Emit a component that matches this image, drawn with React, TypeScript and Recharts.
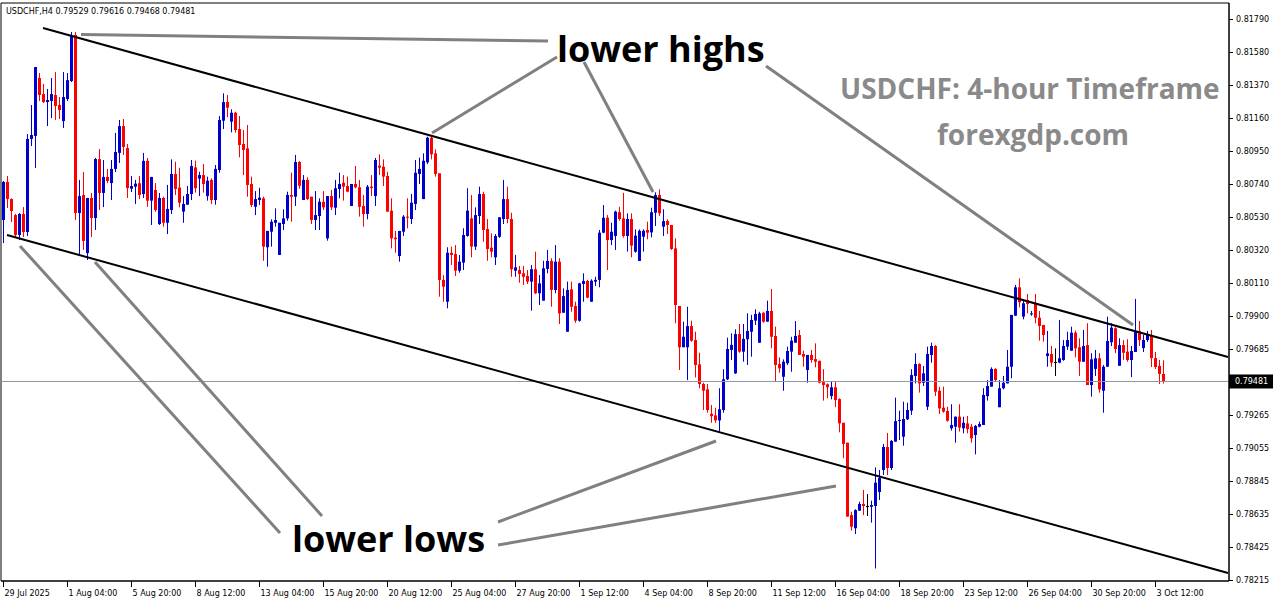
import React from "react";
import { ComposedChart, Bar, XAxis, YAxis, ReferenceLine, ReferenceArea } from "recharts";

// USDCHF H4, one value per 4-hour bar, 29 Jul 08:00 .. 3 Oct 20:00
const opens = [
  0.80510, 0.80752, 0.80643, 0.80541, 0.80414, 0.80548, 0.80433, 0.81026, 0.81045, 0.81414,
  0.81312, 0.81261, 0.81268, 0.81306, 0.81242, 0.81140, 0.81280, 0.81395, 0.81688, 0.80554,
  0.80669, 0.80299, 0.80650, 0.80522, 0.80898, 0.80682, 0.80784, 0.80745, 0.80835, 0.80937,
  0.81108, 0.80968, 0.80709, 0.80722, 0.80744, 0.80675, 0.80886, 0.80633, 0.80701, 0.80484,
  0.80650, 0.80492, 0.80573, 0.80803, 0.80716, 0.80563, 0.80607, 0.80675, 0.80845, 0.80773,
  0.80796, 0.80662, 0.80765, 0.80637, 0.80828, 0.81142, 0.81261, 0.81136, 0.81193, 0.81089,
  0.80994, 0.80966, 0.80739, 0.80594, 0.80637, 0.80648, 0.80336, 0.80435, 0.80492, 0.80287,
  0.80484, 0.80520, 0.80669, 0.80658, 0.80879, 0.80637, 0.80765, 0.80658, 0.80510, 0.80535,
  0.80626, 0.80393, 0.80662, 0.80588, 0.80707, 0.80747, 0.80726, 0.80599, 0.80739, 0.80718,
  0.80599, 0.80548, 0.80722, 0.80662, 0.80856, 0.80849, 0.80790, 0.80569, 0.80397, 0.80280,
  0.80435, 0.80531, 0.80516, 0.80612, 0.80803, 0.80643, 0.80877, 0.81034, 0.80934, 0.80807,
  0.80128, 0.79989, 0.80301, 0.80293, 0.80187, 0.80238, 0.80408, 0.80520, 0.80340, 0.80535,
  0.80675, 0.80452, 0.80333, 0.80272, 0.80403, 0.80516, 0.80643, 0.80516, 0.80187, 0.80191,
  0.80170, 0.80153, 0.80117, 0.80196, 0.80043, 0.79996, 0.80198, 0.80249, 0.80064, 0.80244,
  0.79919, 0.79798, 0.80068, 0.79962, 0.79868, 0.80102, 0.80121, 0.79989, 0.80117, 0.80128,
  0.80429, 0.80524, 0.80382, 0.80408, 0.80559, 0.80520, 0.80408, 0.80516, 0.80308, 0.80249,
  0.80403, 0.80446, 0.80431, 0.80556, 0.80669, 0.80467, 0.80503, 0.80478, 0.80329, 0.79962,
  0.79699, 0.79699, 0.79834, 0.79745, 0.79590, 0.79465, 0.79431, 0.79275, 0.79265, 0.79233,
  0.79299, 0.79495, 0.79682, 0.79533, 0.79783, 0.79671, 0.79750, 0.79798, 0.79869, 0.79728,
  0.79919, 0.79862, 0.79930, 0.79771, 0.79592, 0.79511, 0.79597, 0.79671, 0.79728, 0.79777,
  0.79656, 0.79554, 0.79650, 0.79624, 0.79613, 0.79477, 0.79463, 0.79388, 0.79444, 0.79369,
  0.79218, 0.79091, 0.78630, 0.78546, 0.78658, 0.78701, 0.78688, 0.78683, 0.78688, 0.78777,
  0.78917, 0.79064, 0.78930, 0.79098, 0.79229, 0.79129, 0.79240, 0.79295, 0.79516, 0.79592,
  0.79473, 0.79320, 0.79650, 0.79707, 0.79422, 0.79314, 0.79293, 0.79183, 0.79193, 0.79257,
  0.79183, 0.79214, 0.79193, 0.79140, 0.79193, 0.79204, 0.79388, 0.79448, 0.79561, 0.79317,
  0.79438, 0.79469, 0.79575, 0.79900, 0.80081, 0.79894, 0.80000, 0.79909, 0.79975, 0.79887,
  0.79841, 0.79643, 0.79656, 0.79605, 0.79601, 0.79618, 0.79703, 0.79677, 0.79792, 0.79699,
  0.79607, 0.79713, 0.79458, 0.79561, 0.79629, 0.79422, 0.79575, 0.79731, 0.79820, 0.79581,
  0.79713, 0.79671, 0.79618, 0.79669, 0.79803, 0.79694, 0.79745, 0.79777, 0.79630, 0.79580, 0.79529,
];

const highs = [
  0.80758, 0.80790, 0.80648, 0.80548, 0.80554, 0.80592, 0.81057, 0.81242, 0.81484, 0.81446,
  0.81376, 0.81344, 0.81414, 0.81452, 0.81293, 0.81452, 0.81446, 0.81707, 0.81707, 0.80765,
  0.80815, 0.80650, 0.80682, 0.80905, 0.80962, 0.80892, 0.80835, 0.80892, 0.81064, 0.81147,
  0.81153, 0.80994, 0.80790, 0.80765, 0.80790, 0.80937, 0.80905, 0.80784, 0.80745, 0.80682,
  0.80658, 0.80733, 0.80896, 0.80881, 0.80843, 0.80662, 0.80726, 0.80892, 0.80888, 0.80817,
  0.80866, 0.80786, 0.80775, 0.80860, 0.81172, 0.81317, 0.81306, 0.81215, 0.81200, 0.81172,
  0.81083, 0.81115, 0.80786, 0.80694, 0.80715, 0.80658, 0.80440, 0.80514, 0.80584, 0.80492,
  0.80578, 0.80690, 0.80811, 0.80924, 0.80885, 0.80796, 0.80782, 0.80658, 0.80694, 0.80648,
  0.80694, 0.80662, 0.80701, 0.80765, 0.80811, 0.80796, 0.80786, 0.80739, 0.80854, 0.80765,
  0.80669, 0.80733, 0.80796, 0.80905, 0.80928, 0.80896, 0.80817, 0.80648, 0.80440, 0.80440,
  0.80541, 0.80648, 0.80675, 0.80892, 0.80907, 0.80934, 0.81040, 0.81051, 0.80960, 0.80807,
  0.80159, 0.80336, 0.80340, 0.80350, 0.80287, 0.80457, 0.80712, 0.80669, 0.80590, 0.80722,
  0.80690, 0.80516, 0.80425, 0.80420, 0.80527, 0.80765, 0.80722, 0.80556, 0.80287, 0.80217,
  0.80217, 0.80191, 0.80223, 0.80308, 0.80159, 0.80250, 0.80319, 0.80266, 0.80350, 0.80266,
  0.80074, 0.80117, 0.80117, 0.79989, 0.80110, 0.80170, 0.80128, 0.80132, 0.80148, 0.80446,
  0.80605, 0.80541, 0.80492, 0.80569, 0.80594, 0.80683, 0.80552, 0.80552, 0.80450, 0.80450,
  0.80450, 0.80499, 0.80588, 0.80686, 0.80705, 0.80578, 0.80514, 0.80478, 0.80393, 0.79962,
  0.79862, 0.79957, 0.79868, 0.79798, 0.79664, 0.79473, 0.79465, 0.79331, 0.79314, 0.79438,
  0.79559, 0.79760, 0.79788, 0.79813, 0.79847, 0.79847, 0.79915, 0.79905, 0.79941, 0.79925,
  0.79922, 0.79996, 0.80070, 0.79830, 0.79635, 0.79622, 0.79703, 0.79766, 0.79866, 0.79809,
  0.79677, 0.79650, 0.79682, 0.79724, 0.79613, 0.79559, 0.79469, 0.79480, 0.79484, 0.79374,
  0.79218, 0.79091, 0.78651, 0.78667, 0.78715, 0.78790, 0.78764, 0.78722, 0.78934, 0.78917,
  0.79083, 0.79153, 0.79108, 0.79378, 0.79295, 0.79352, 0.79346, 0.79559, 0.79661, 0.79597,
  0.79580, 0.79703, 0.79728, 0.79713, 0.79448, 0.79448, 0.79320, 0.79336, 0.79257, 0.79336,
  0.79257, 0.79261, 0.79210, 0.79204, 0.79225, 0.79438, 0.79490, 0.79571, 0.79565, 0.79490,
  0.79516, 0.79682, 0.79905, 0.80096, 0.80138, 0.80005, 0.80038, 0.79930, 0.80038, 0.79930,
  0.79841, 0.79803, 0.79707, 0.79692, 0.79873, 0.79745, 0.79798, 0.79830, 0.79805, 0.79756,
  0.79809, 0.79852, 0.79661, 0.79682, 0.79661, 0.79586, 0.79894, 0.79852, 0.79826, 0.79756,
  0.79745, 0.79750, 0.79707, 0.80007, 0.79866, 0.79777, 0.79803, 0.79809, 0.79669, 0.79618, 0.79616,
];

const lows = [
  0.80363, 0.80586, 0.80497, 0.80401, 0.80382, 0.80401, 0.80408, 0.80981, 0.80841, 0.81268,
  0.81255, 0.81108, 0.81159, 0.81147, 0.81153, 0.81096, 0.81268, 0.81389, 0.80510, 0.80280,
  0.80319, 0.80255, 0.80401, 0.80446, 0.80573, 0.80592, 0.80745, 0.80637, 0.80815, 0.80873,
  0.80924, 0.80650, 0.80688, 0.80611, 0.80643, 0.80650, 0.80594, 0.80478, 0.80563, 0.80478,
  0.80467, 0.80420, 0.80548, 0.80669, 0.80590, 0.80492, 0.80607, 0.80637, 0.80684, 0.80662,
  0.80684, 0.80633, 0.80611, 0.80607, 0.80811, 0.81089, 0.81164, 0.81068, 0.81066, 0.80909,
  0.80796, 0.80658, 0.80592, 0.80541, 0.80605, 0.80250, 0.80212, 0.80340, 0.80467, 0.80287,
  0.80446, 0.80505, 0.80499, 0.80599, 0.80709, 0.80637, 0.80637, 0.80484, 0.80446, 0.80446,
  0.80573, 0.80378, 0.80573, 0.80541, 0.80648, 0.80633, 0.80686, 0.80599, 0.80712, 0.80531,
  0.80467, 0.80514, 0.80662, 0.80599, 0.80796, 0.80726, 0.80563, 0.80329, 0.80301, 0.80244,
  0.80408, 0.80457, 0.80484, 0.80573, 0.80739, 0.80643, 0.80866, 0.80896, 0.80786, 0.80021,
  0.79989, 0.79947, 0.80223, 0.80153, 0.80174, 0.80191, 0.80403, 0.80272, 0.80319, 0.80484,
  0.80371, 0.80250, 0.80272, 0.80223, 0.80395, 0.80484, 0.80489, 0.80148, 0.80148, 0.80110,
  0.80096, 0.80102, 0.79932, 0.80038, 0.79968, 0.79996, 0.80170, 0.79957, 0.80043, 0.79847,
  0.79919, 0.79798, 0.79925, 0.79855, 0.79862, 0.79989, 0.80011, 0.79989, 0.80089, 0.80081,
  0.80425, 0.80191, 0.80350, 0.80319, 0.80505, 0.80397, 0.80308, 0.80272, 0.80301, 0.80249,
  0.80308, 0.80387, 0.80399, 0.80471, 0.80535, 0.80408, 0.80420, 0.80319, 0.79852, 0.79554,
  0.79699, 0.79490, 0.79734, 0.79507, 0.79438, 0.79299, 0.79282, 0.79218, 0.79218, 0.79162,
  0.79282, 0.79490, 0.79618, 0.79529, 0.79664, 0.79607, 0.79586, 0.79639, 0.79841, 0.79728,
  0.79855, 0.79862, 0.79692, 0.79480, 0.79537, 0.79422, 0.79586, 0.79543, 0.79728, 0.79650,
  0.79575, 0.79473, 0.79601, 0.79571, 0.79469, 0.79359, 0.79374, 0.79367, 0.79317, 0.79157,
  0.78992, 0.78620, 0.78531, 0.78509, 0.78658, 0.78630, 0.78624, 0.78582, 0.78290, 0.78726,
  0.78885, 0.78885, 0.78917, 0.79098, 0.79108, 0.79072, 0.79236, 0.79268, 0.79469, 0.79410,
  0.79452, 0.79299, 0.79601, 0.79388, 0.79274, 0.79282, 0.79225, 0.79168, 0.79091, 0.79162,
  0.79151, 0.79151, 0.79091, 0.79017, 0.79189, 0.79204, 0.79359, 0.79448, 0.79480, 0.79317,
  0.79431, 0.79469, 0.79501, 0.79900, 0.79953, 0.79877, 0.79915, 0.79900, 0.79851, 0.79741,
  0.79734, 0.79575, 0.79575, 0.79516, 0.79597, 0.79613, 0.79682, 0.79677, 0.79635, 0.79516,
  0.79607, 0.79458, 0.79384, 0.79516, 0.79410, 0.79282, 0.79575, 0.79707, 0.79661, 0.79581,
  0.79618, 0.79607, 0.79509, 0.79669, 0.79707, 0.79669, 0.79733, 0.79573, 0.79560, 0.79465, 0.79468,
];

const closes = [
  0.80752, 0.80643, 0.80567, 0.80414, 0.80548, 0.80433, 0.81026, 0.81051, 0.81484, 0.81306,
  0.81261, 0.81274, 0.81312, 0.81236, 0.81210, 0.81293, 0.81401, 0.81688, 0.80554, 0.80662,
  0.80376, 0.80650, 0.80522, 0.80898, 0.80682, 0.80784, 0.80758, 0.80835, 0.80943, 0.81108,
  0.80975, 0.80713, 0.80726, 0.80741, 0.80669, 0.80886, 0.80633, 0.80784, 0.80573, 0.80650,
  0.80492, 0.80580, 0.80803, 0.80707, 0.80620, 0.80612, 0.80675, 0.80854, 0.80712, 0.80796,
  0.80739, 0.80760, 0.80637, 0.80835, 0.81147, 0.81261, 0.81225, 0.81193, 0.81083, 0.80987,
  0.80956, 0.80733, 0.80605, 0.80643, 0.80652, 0.80340, 0.80440, 0.80499, 0.80510, 0.80492,
  0.80520, 0.80669, 0.80658, 0.80879, 0.80728, 0.80765, 0.80643, 0.80510, 0.80541, 0.80626,
  0.80590, 0.80662, 0.80590, 0.80712, 0.80739, 0.80722, 0.80690, 0.80739, 0.80718, 0.80594,
  0.80548, 0.80722, 0.80713, 0.80892, 0.80843, 0.80786, 0.80563, 0.80393, 0.80387, 0.80440,
  0.80531, 0.80524, 0.80620, 0.80811, 0.80835, 0.80887, 0.81034, 0.80928, 0.80803, 0.80128,
  0.80085, 0.80301, 0.80287, 0.80187, 0.80244, 0.80414, 0.80569, 0.80340, 0.80541, 0.80675,
  0.80446, 0.80325, 0.80308, 0.80408, 0.80527, 0.80643, 0.80516, 0.80196, 0.80208, 0.80166,
  0.80148, 0.80117, 0.80196, 0.80043, 0.80106, 0.80202, 0.80249, 0.80064, 0.80244, 0.79915,
  0.80025, 0.80064, 0.79957, 0.79868, 0.80106, 0.80121, 0.80015, 0.80123, 0.80128, 0.80429,
  0.80524, 0.80382, 0.80435, 0.80563, 0.80516, 0.80408, 0.80516, 0.80346, 0.80410, 0.80441,
  0.80441, 0.80429, 0.80559, 0.80669, 0.80552, 0.80503, 0.80478, 0.80325, 0.79968, 0.79699,
  0.79766, 0.79834, 0.79741, 0.79586, 0.79465, 0.79422, 0.79299, 0.79260, 0.79233, 0.79304,
  0.79495, 0.79688, 0.79714, 0.79783, 0.79671, 0.79752, 0.79803, 0.79873, 0.79911, 0.79915,
  0.79862, 0.79930, 0.79766, 0.79586, 0.79565, 0.79607, 0.79675, 0.79741, 0.79771, 0.79650,
  0.79639, 0.79650, 0.79618, 0.79607, 0.79473, 0.79458, 0.79444, 0.79444, 0.79363, 0.79214,
  0.79083, 0.78620, 0.78556, 0.78662, 0.78701, 0.78688, 0.78688, 0.78694, 0.78836, 0.78866,
  0.79064, 0.78930, 0.79102, 0.79229, 0.79236, 0.79242, 0.79299, 0.79522, 0.79592, 0.79469,
  0.79533, 0.79656, 0.79707, 0.79416, 0.79310, 0.79289, 0.79231, 0.79204, 0.79257, 0.79187,
  0.79218, 0.79178, 0.79119, 0.79198, 0.79210, 0.79395, 0.79452, 0.79561, 0.79490, 0.79438,
  0.79473, 0.79575, 0.79905, 0.80081, 0.79985, 0.79979, 0.79975, 0.79915, 0.79887, 0.79834,
  0.79777, 0.79660, 0.79601, 0.79605, 0.79629, 0.79707, 0.79745, 0.79792, 0.79692, 0.79607,
  0.79707, 0.79458, 0.79622, 0.79629, 0.79431, 0.79575, 0.79739, 0.79824, 0.79688, 0.79713,
  0.79664, 0.79618, 0.79675, 0.79803, 0.79745, 0.79745, 0.79777, 0.79630, 0.79573, 0.79529, 0.79481,
];

const timeTickIndex = [0, 16, 32, 48, 64, 80, 96, 112, 128, 144, 160, 176, 192, 208, 224, 240, 256, 272, 288];
const timeTickLabels = [
  "29 Jul 2025", "1 Aug 04:00", "5 Aug 20:00", "8 Aug 12:00", "13 Aug 04:00", "15 Aug 20:00",
  "20 Aug 12:00", "25 Aug 04:00", "27 Aug 20:00", "1 Sep 12:00", "4 Sep 04:00", "8 Sep 20:00",
  "11 Sep 12:00", "16 Sep 04:00", "18 Sep 20:00", "23 Sep 12:00", "26 Sep 04:00", "30 Sep 20:00",
  "3 Oct 12:00",
];
const priceTicks = [
  0.8179, 0.8158, 0.8137, 0.8116, 0.8095, 0.8074, 0.8053, 0.8032, 0.8011, 0.799, 0.79685,
  0.79265, 0.79055, 0.78845, 0.78635, 0.78425, 0.78215,
];
const lastPrice = 0.79481;
const priceDomain = [0.7821, 0.81892];
const slotDomain = [-0.5, 306.5];

// trend channel (black) and callout lines (gray), as [bar index, price] pairs
const channelLines = [
  [[10, 0.81733], [306.25, 0.79637]],
  [[1, 0.80414], [306.25, 0.78261]],
];
const calloutLines = [
  [[19.5, 0.81691], [136.25, 0.8165]],
  [[107.25, 0.81064], [138.5, 0.81548]],
  [[145.25, 0.81516], [162.5, 0.80688]],
  [[190.75, 0.81491], [282.5, 0.79841]],
  [[4.25, 0.80344], [69.25, 0.78516]],
  [[23, 0.80242], [79.75, 0.78624]],
  [[123.75, 0.78586], [178.25, 0.79102]],
  [[123.75, 0.78439], [208.25, 0.78815]],
];

const BULL = "#0000cc";
const BEAR = "#ff0000";
const DOJI = "#000000";
const AXIS_FONT = "DejaVu Sans";

const rows = opens.map((o, i) => {
  const c = closes[i];
  const lo = Math.min(lows[i], o, c);
  const hi = Math.max(highs[i], o, c);
  return { i, o, c, range: [lo, hi] };
});

function Candle(props: any) {
  const { x, y, width, height, payload } = props;
  if (!payload || height == null || isNaN(y)) return null;
  const [lo, hi] = payload.range;
  const top = Math.min(y, y + height);
  const span = Math.abs(height);
  const toY = (v: number) => (hi === lo ? top : top + ((hi - v) / (hi - lo)) * span);
  const cx = Math.round(x + width / 2) + 0.5;
  const color = payload.c > payload.o ? BULL : payload.c < payload.o ? BEAR : DOJI;
  const yo = toY(payload.o);
  const yc = toY(payload.c);
  const bodyTop = Math.min(yo, yc);
  const bodyH = Math.max(1, Math.abs(yo - yc));
  return (
    <g>
      <line x1={cx} x2={cx} y1={top} y2={top + Math.max(span, 1)} stroke={color} strokeWidth={1} />
      <rect x={cx - 1.5} y={bodyTop} width={3} height={bodyH} fill={color} />
    </g>
  );
}

function TimeTick(props: any) {
  const { x, y, payload } = props;
  const k = timeTickIndex.indexOf(payload.value);
  if (k < 0) return null;
  const px = Math.round(x) + 0.5;
  return (
    <g>
      <line x1={px} x2={px} y1={y} y2={y + 6} stroke="#000" strokeWidth={1} />
      <text x={px + 1} y={y + 15} fontSize={8} fontFamily={AXIS_FONT} fill="#000">
        {timeTickLabels[k]}
      </text>
    </g>
  );
}

function PriceTick(props: any) {
  const { x, y, payload } = props;
  const v = payload.value;
  if (v === lastPrice) {
    return (
      <g>
        <rect x={x} y={y - 7} width={44} height={14} fill="#000" />
        <text x={x + 6} y={y + 3} fontSize={8} fontFamily={AXIS_FONT} fill="#fff">
          {v.toFixed(5)}
        </text>
      </g>
    );
  }
  const py = Math.round(y) + 0.5;
  return (
    <g>
      <line x1={x} x2={x + 4} y1={py} y2={py} stroke="#000" strokeWidth={1} />
      <text x={x + 7} y={y + 3} fontSize={8} fontFamily={AXIS_FONT} fill="#000">
        {v.toFixed(5)}
      </text>
    </g>
  );
}

export default function App() {
  const n = opens.length - 1;
  const header = `USDCHF,H4  ${opens[n].toFixed(5)} ${highs[n].toFixed(5)} ${lows[n].toFixed(5)} ${closes[n].toFixed(5)}`;
  return (
    <div style={{ position: "absolute", left: 0, top: 0, width: 1276, height: 604, background: "#fff" }}>
      <ComposedChart width={1276} height={604} data={rows} margin={{ top: 3, right: 0, bottom: 0, left: 1 }}>
        <XAxis
          dataKey="i"
          type="number"
          domain={slotDomain}
          ticks={timeTickIndex}
          interval={0}
          allowDataOverflow
          height={23}
          tickSize={0}
          tickMargin={0}
          tickLine={false}
          axisLine={{ stroke: "#000" }}
          tick={<TimeTick />}
        />
        <YAxis
          orientation="right"
          type="number"
          domain={priceDomain}
          ticks={[...priceTicks, lastPrice]}
          interval={0}
          allowDataOverflow
          width={47}
          tickSize={0}
          tickMargin={0}
          tickLine={false}
          axisLine={{ stroke: "#000" }}
          tick={<PriceTick />}
        />
        <ReferenceArea
          x1={slotDomain[0]}
          x2={slotDomain[1]}
          y1={priceDomain[0]}
          y2={priceDomain[1]}
          fill="none"
          stroke="#000"
          strokeWidth={1}
          ifOverflow="visible"
        />
        <ReferenceLine y={lastPrice} stroke="#8d98a3" strokeWidth={1} />
        <Bar dataKey="range" barSize={3} shape={Candle} isAnimationActive={false} />
        {channelLines.map((s, k) => (
          <ReferenceLine
            key={`ch-${k}`}
            segment={[{ x: s[0][0], y: s[0][1] }, { x: s[1][0], y: s[1][1] }]}
            stroke="#000"
            strokeWidth={2}
            ifOverflow="visible"
          />
        ))}
        {calloutLines.map((s, k) => (
          <ReferenceLine
            key={`co-${k}`}
            segment={[{ x: s[0][0], y: s[0][1] }, { x: s[1][0], y: s[1][1] }]}
            stroke="#808080"
            strokeWidth={3}
            ifOverflow="visible"
          />
        ))}
      </ComposedChart>
      <svg width={1276} height={604} style={{ position: "absolute", left: 0, top: 0, pointerEvents: "none" }}>
        <text x={6} y={14} fontSize={8} fontFamily={AXIS_FONT} fill="#000">{header}</text>
        <text x={557} y={62} fontSize={36} fontWeight={700} fontFamily="Open Sans" fill="#000">lower highs</text>
        <text x={292} y={552} fontSize={36} fontWeight={700} fontFamily="Open Sans" fill="#000">lower lows</text>
        <text x={840} y={99} fontSize={28} fontWeight={700} fontFamily="Open Sans" fill="#8a8a8a">USDCHF: 4-hour Timeframe</text>
        <text x={937} y={145} fontSize={28} fontWeight={700} fontFamily="Open Sans" fill="#8a8a8a">forexgdp.com</text>
      </svg>
    </div>
  );
}
